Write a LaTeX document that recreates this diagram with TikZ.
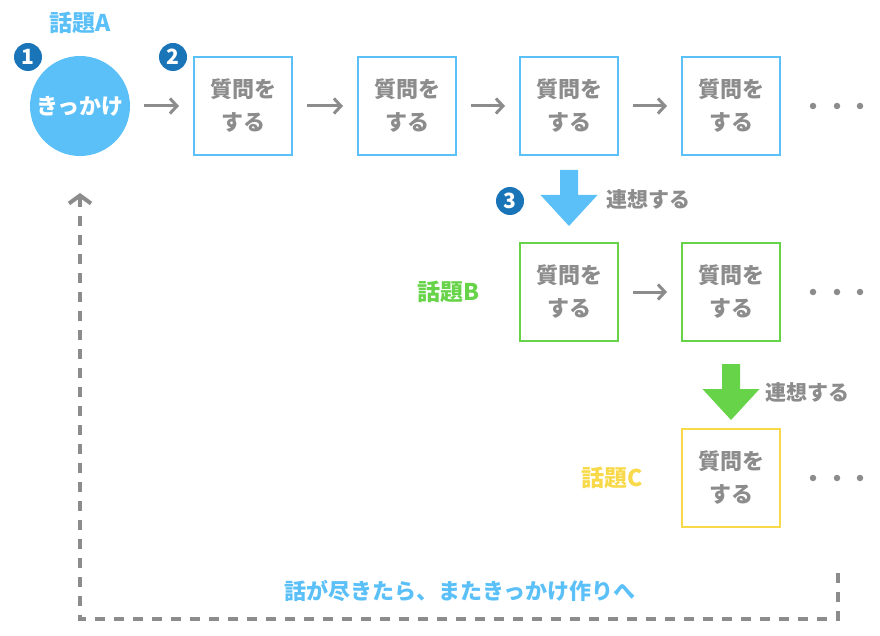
\documentclass[tikz,border=0pt]{standalone}
\usepackage{fontspec}
\setmainfont{Noto Sans CJK JP}
\usetikzlibrary{arrows.meta,calc}

\definecolor{topA}{HTML}{5BC0F8}
\definecolor{topB}{HTML}{66D348}
\definecolor{topC}{HTML}{F8D94A}
\definecolor{txt}{HTML}{8C8C8C}
\definecolor{num}{HTML}{1A74B8}

\tikzset{
  ask/.style={draw=#1, line width=2pt, minimum size=98pt, inner sep=0pt,
    text=txt, align=center, font=\bfseries\fontsize{22}{33}\selectfont},
  flow/.style={draw=txt, line width=3pt, shorten >=14pt, shorten <=14pt,
    -{Straight Barb[length=7pt,width=15pt]}},
  badge/.style={circle, fill=num, text=white, minimum size=28pt, inner sep=0pt,
    font=\bfseries\fontsize{21}{21}\selectfont},
  topic/.style={text=#1, font=\bfseries\fontsize{23}{23}\selectfont},
  note/.style={text=txt, font=\bfseries\fontsize{21}{21}\selectfont},
  dot/.style={circle, fill=txt, minimum size=6.5pt, inner sep=0pt},
  back/.style={draw=txt, line width=4pt, dash pattern=on 10pt off 9pt,
    -{Straight Barb[length=8pt,width=22pt]}}
}

\newcommand{\moredots}[1]{%
  \node[dot] at ($(#1)+(82,0)$) {};
  \node[dot] at ($(#1)+(106,0)$) {};
  \node[dot] at ($(#1)+(129,0)$) {};
}
\newcommand{\bigarrow}[3]{% color, start node, gap
  \fill[#1, shift={($(#2.south)+(0,#3)$)}] (-9,0) -- (9,0) -- (9,25)
    -- (28.5,25) -- (0,56) -- (-28.5,25) -- (-9,25) -- cycle;
}

\begin{document}
\begin{tikzpicture}[x=1pt,y=-1pt]
  \useasboundingbox (0,0) rectangle (880,636);
  % topic A
  \node[topic=topA] (ta) at (80,23) {話題A};
  \node[circle, fill=topA, minimum size=100pt, inner sep=0pt, text=white,
    font=\bfseries\fontsize{22}{22}\selectfont] (start) at (80,106) {きっかけ};
  \node[ask=topA] (a1) at (243,106) {質問を\\する};
  \node[ask=topA] (a2) at (407,106) {質問を\\する};
  \node[ask=topA] (a3) at (569,106) {質問を\\する};
  \node[ask=topA] (a4) at (731,106) {質問を\\する};
  \draw[flow] (start) -- (a1);
  \draw[flow] (a1) -- (a2);
  \draw[flow] (a2) -- (a3);
  \draw[flow] (a3) -- (a4);
  \moredots{a4}
  % numbers
  \node[badge] (n1) at (28,57) {1};
  \node[badge] (n2) at (173,57) {2};
  \node[badge] (n3) at (510,201) {3};
  % association A -> B
  \bigarrow{topA}{a3}{14}
  \node[note, anchor=west] (na) at (603,199) {連想する};
  % topic B
  \node[topic=topB] (tb) at (448,292) {話題B};
  \node[ask=topB] (b1) at (569,292) {質問を\\する};
  \node[ask=topB] (b2) at (731,292) {質問を\\する};
  \draw[flow] (b1) -- (b2);
  \moredots{b2}
  % association B -> C
  \bigarrow{topB}{b2}{22}
  \node[note, anchor=west] (nb) at (762,392) {連想する};
  % topic C
  \node[topic=topC] (tc) at (612,478) {話題C};
  \node[ask=topC] (c1) at (731,478) {質問を\\する};
  \moredots{c1}
  % back to start
  \coordinate (rs) at (838,573);
  \coordinate (re) at (80,193);
  \draw[back] (rs) -- ++(0,46) -| (re);
  \node[topic=topA, font=\bfseries\fontsize{22}{22}\selectfont] (tr) at (460,591)
    {話が尽きたら、またきっかけ作りへ};
\end{tikzpicture}
\end{document}
